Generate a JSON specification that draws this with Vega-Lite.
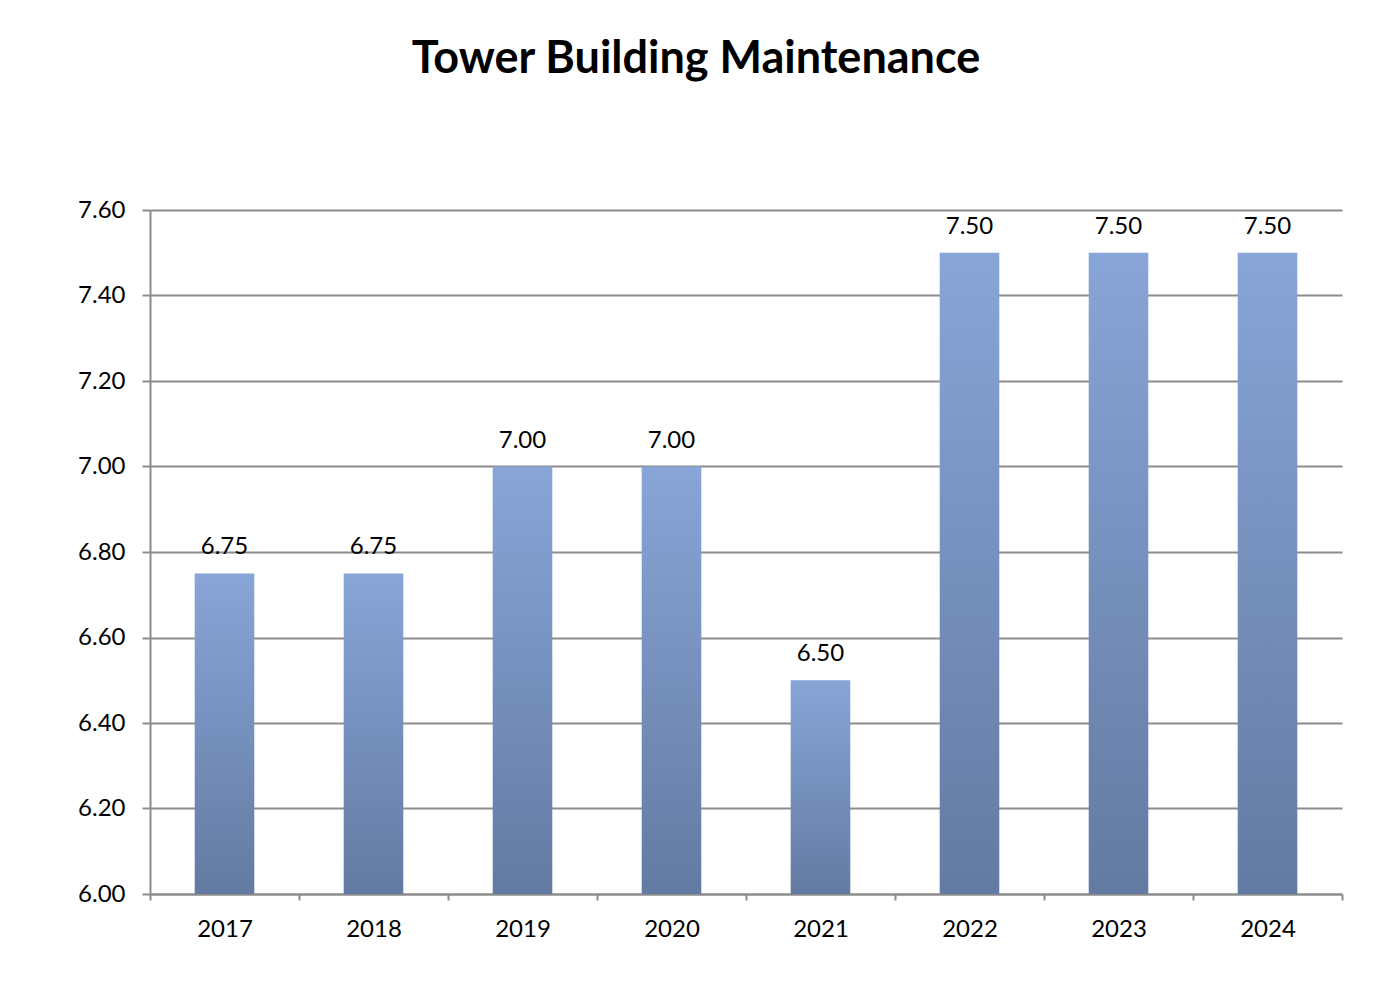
{
  "$schema": "https://vega.github.io/schema/vega-lite/v6.json",
  "width": 1192,
  "height": 684,
  "autosize": {"type": "none"},
  "padding": {"left": 150, "top": 210, "right": 50, "bottom": 102},
  "background": "#ffffff",
  "title": {
    "text": "Tower Building Maintenance",
    "font": "Lato",
    "fontSize": 45,
    "fontWeight": "bold",
    "color": "#000000",
    "anchor": "middle",
    "frame": "group",
    "dx": -50,
    "baseline": "alphabetic",
    "offset": 80
  },
  "data": {
    "values": [
      {"year": "2017", "value": 6.75},
      {"year": "2018", "value": 6.75},
      {"year": "2019", "value": 7.0},
      {"year": "2020", "value": 7.0},
      {"year": "2021", "value": 6.5},
      {"year": "2022", "value": 7.5},
      {"year": "2023", "value": 7.5},
      {"year": "2024", "value": 7.5}
    ]
  },
  "encoding": {
    "x": {
      "field": "year",
      "type": "ordinal",
      "sort": null,
      "scale": {"paddingInner": 0, "paddingOuter": 0},
      "axis": {
        "title": null,
        "labelAngle": 0,
        "labelFont": "Lato",
        "labelFontSize": 24,
        "labelColor": "#000000",
        "labelPadding": 17,
        "tickBand": "extent",
        "tickSize": 6,
        "tickWidth": 2,
        "tickColor": "#8c8c8c",
        "domainColor": "#8c8c8c",
        "domainWidth": 2,
        "grid": false
      }
    },
    "y": {
      "field": "value",
      "type": "quantitative",
      "scale": {"domain": [6, 7.6], "zero": false, "nice": false},
      "axis": {
        "title": null,
        "values": [6, 6.2, 6.4, 6.6, 6.8, 7.0, 7.2, 7.4, 7.6],
        "format": ".2f",
        "labelFont": "Lato",
        "labelFontSize": 24,
        "labelColor": "#000000",
        "labelPadding": 17,
        "tickSize": 8,
        "tickWidth": 2,
        "tickColor": "#8c8c8c",
        "domainColor": "#8c8c8c",
        "domainWidth": 2,
        "grid": true,
        "gridColor": "#8c8c8c",
        "gridWidth": 2
      }
    }
  },
  "layer": [
    {
      "mark": {
        "type": "bar",
        "width": {"band": 0.4},
        "color": {
          "gradient": "linear",
          "x1": 0, "y1": 0, "x2": 0, "y2": 1,
          "stops": [
            {"offset": 0, "color": "#88a5d7"},
            {"offset": 1, "color": "#637ba2"}
          ]
        }
      },
      "encoding": {"y2": {"datum": 6}}
    },
    {
      "mark": {
        "type": "text",
        "font": "Lato",
        "fontSize": 24,
        "color": "#000000",
        "baseline": "alphabetic",
        "dy": -19
      },
      "encoding": {"text": {"field": "value", "type": "quantitative", "format": ".2f"}}
    }
  ],
  "config": {"view": {"stroke": null}}
}
